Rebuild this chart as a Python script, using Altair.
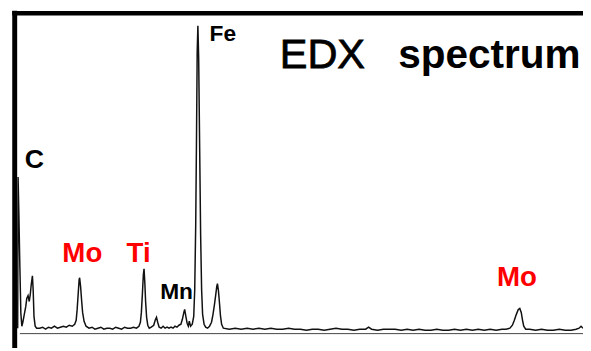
import altair as alt
import pandas as pd

# ---- spectrum (energy keV, intensity a.u.) ----
energy = [0.222, 0.235, 0.263, 0.297, 0.331, 0.365, 0.399, 0.450, 0.501, 0.535,
          0.580, 0.621, 0.655, 0.689, 0.730, 0.757, 0.784, 0.825, 0.876,
          0.979, 1.081, 1.183, 1.285, 1.388, 1.490, 1.593, 1.695, 1.797, 1.900,
          2.002, 2.104, 2.189,
          2.240, 2.274, 2.308, 2.342, 2.359, 2.393, 2.428, 2.462, 2.513, 2.581, 2.683,
          2.786, 2.888, 2.990, 3.093, 3.195, 3.297, 3.400, 3.502, 3.604, 3.707,
          3.809, 3.911, 4.013, 4.116, 4.218, 4.320, 4.405,
          4.456, 4.490, 4.524, 4.558, 4.582, 4.609, 4.636, 4.671, 4.711, 4.762, 4.831,
          4.916, 4.967, 5.012, 5.053, 5.104, 5.172, 5.240, 5.309, 5.377, 5.445,
          5.513, 5.582, 5.650, 5.718, 5.786,
          5.854, 5.905, 5.956, 5.984, 6.025, 6.069, 6.110, 6.144, 6.188, 6.246,
          6.297, 6.331, 6.365, 6.393, 6.416, 6.440, 6.467, 6.501, 6.535, 6.569,
          6.603, 6.654, 6.708, 6.774, 6.842,
          6.911, 6.962, 7.013, 7.057, 7.091, 7.115, 7.149, 7.184, 7.218, 7.259, 7.320,
          7.525, 7.730, 7.934, 8.139, 8.343, 8.548, 8.752, 8.957, 9.161, 9.366,
          9.570, 9.775, 9.980, 10.184, 10.389, 10.593, 10.798, 11.002, 11.207, 11.411,
          11.616, 11.821, 12.025, 12.230, 12.332, 12.434, 12.639, 12.843, 13.048, 13.248,
          13.457, 13.662, 13.866, 14.071, 14.275, 14.480, 14.684, 14.889, 15.094, 15.298,
          15.503, 15.707, 15.912, 16.116, 16.321, 16.525, 16.730, 16.935, 17.071,
          17.208, 17.293, 17.361, 17.429, 17.497, 17.548, 17.599, 17.644, 17.685, 17.753,
          17.889, 18.094, 18.298, 18.503, 18.708, 18.912, 19.117, 19.321, 19.492, 19.594,
          19.662, 19.730]
counts = [6, 159, 121, 68, 21, 8, 12, 20, 28, 36,
          39, 33, 40, 50, 59, 44, 18, 8, 6,
          6, 7, 5, 7, 6, 8, 6, 7, 8, 7,
          9, 8, 10,
          14, 25, 40, 55, 57, 48, 34, 22, 13, 8, 6,
          7, 5, 6, 7, 5, 6, 6, 5, 7, 6,
          5, 7, 6, 6, 7, 6, 8,
          12, 22, 40, 60, 66, 52, 33, 17, 9, 6, 7,
          9, 14, 17, 12, 7, 6, 8, 6, 7, 6,
          7, 6, 8, 7, 9,
          10, 15, 22, 25, 18, 11, 8, 13, 8, 10,
          18, 45, 110, 200, 285, 312, 280, 190, 100, 45,
          20, 10, 7, 6, 8,
          12, 20, 30, 40, 48, 51, 44, 32, 19, 10, 6,
          5, 6, 5, 6, 5, 6, 5, 6, 5, 5,
          6, 5, 5, 4, 5, 5, 4, 5, 6, 5,
          5, 4, 5, 5, 7, 5, 4, 5, 5, 5,
          4, 5, 4, 5, 4, 4, 5, 4, 4, 5,
          4, 5, 4, 5, 4, 5, 4, 5, 5,
          6, 9, 14, 20, 25, 26, 22, 14, 8, 5,
          5, 4, 5, 4, 4, 5, 4, 4, 5, 6,
          8, 6]

# ---- peak labels ----
black_labels = ["C", "Mn", "Fe"]
black_label_e = [0.467, 5.138, 6.843]
black_label_c = [168, 36, 297]
black_label_size = [27, 23, 23]

red_labels = ["Mo", "Ti", "Mo"]
red_label_e = [1.763, 3.979, 16.764]
red_label_c = [73, 73, 49]

title_words = ["EDX", "spectrum"]
title_e = [9.264, 13.355]
title_c = [269, 269]

E_MIN, E_MAX = -0.1125, 19.73
C_MIN, C_MAX = -14, 328

xs = alt.Scale(domain=[E_MIN, E_MAX], nice=False, zero=False)
ys = alt.Scale(domain=[C_MIN, C_MAX], nice=False, zero=False)

spec = pd.DataFrame({"E": energy, "c": counts})

line = alt.Chart(spec).mark_line(color="#111111", strokeWidth=1.5).encode(
    x=alt.X("E:Q", scale=xs, axis=None),
    y=alt.Y("c:Q", scale=ys, axis=None),
)

# frame: thick top and left border, thin baseline
frame = pd.DataFrame({
    "x": [0.034, 0.119, 0.297],
    "x2": [E_MAX, 0.119, E_MAX],
    "y": [324.7, C_MIN, 0.5],
    "y2": [324.7, 327.2, 0.5],
    "w": [4.5, 5.0, 1.0],
    "col": ["#000000", "#000000", "#444444"],
})
frame_rules = alt.Chart(frame).mark_rule(strokeCap="butt").encode(
    x=alt.X("x:Q", scale=xs, axis=None),
    x2="x2:Q",
    y=alt.Y("y:Q", scale=ys, axis=None),
    y2="y2:Q",
    strokeWidth=alt.StrokeWidth("w:Q", scale=None),
    color=alt.Color("col:N", scale=None),
)

bl = pd.DataFrame({"t": black_labels, "E": black_label_e, "c": black_label_c,
                   "s": black_label_size})
black_txt = alt.Chart(bl).mark_text(
    align="left", baseline="alphabetic", font="Liberation Sans",
    fontWeight="bold", color="#000000"
).encode(
    x=alt.X("E:Q", scale=xs, axis=None),
    y=alt.Y("c:Q", scale=ys, axis=None),
    text="t:N",
    size=alt.Size("s:Q", scale=None),
)

rl = pd.DataFrame({"t": red_labels, "E": red_label_e, "c": red_label_c})
red_txt = alt.Chart(rl).mark_text(
    align="left", baseline="alphabetic", font="Liberation Sans",
    fontWeight="bold", color="#ff0000", fontSize=28
).encode(
    x=alt.X("E:Q", scale=xs, axis=None),
    y=alt.Y("c:Q", scale=ys, axis=None),
    text="t:N",
)

t1 = pd.DataFrame({"t": title_words[:1], "E": title_e[:1], "c": title_c[:1]})
t2 = pd.DataFrame({"t": title_words[1:], "E": title_e[1:], "c": title_c[1:]})
edx_txt = alt.Chart(t1).mark_text(
    align="left", baseline="alphabetic", font="Liberation Sans",
    fontWeight="normal", color="#000000", fontSize=42,
    stroke="#000000", strokeWidth=0.8
).encode(
    x=alt.X("E:Q", scale=xs, axis=None),
    y=alt.Y("c:Q", scale=ys, axis=None),
    text="t:N",
)
spec_txt = alt.Chart(t2).mark_text(
    align="left", baseline="alphabetic", font="Liberation Sans",
    fontWeight="bold", color="#000000", fontSize=41
).encode(
    x=alt.X("E:Q", scale=xs, axis=None),
    y=alt.Y("c:Q", scale=ys, axis=None),
    text="t:N",
)

chart = alt.layer(frame_rules, line, black_txt, red_txt, edx_txt, spec_txt).properties(
    width=582, height=342, padding=0, autosize=alt.AutoSizeParams(type="none"),
    background="#ffffff",
).configure_view(stroke=None)

chart.save("out.html", embed_options={"renderer": "svg", "actions": False})
